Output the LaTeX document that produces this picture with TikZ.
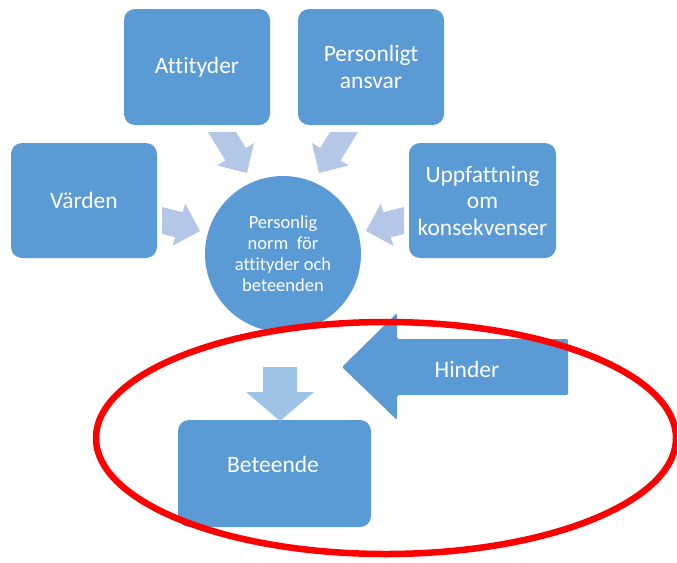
\documentclass[tikz,border=0pt]{standalone}
\usepackage{fontspec}
\setmainfont[Ligatures=CommonOff]{Carlito}
\definecolor{boxblue}{HTML}{5B9BD5}
\definecolor{arrowblue}{HTML}{B4C7E7}
\definecolor{downblue}{HTML}{9DC3E6}
\definecolor{ringred}{HTML}{FF0000}
\begin{document}
\begin{tikzpicture}[x=1pt,y=-1pt,
  blockbox/.style={fill=boxblue, draw=none, rounded corners=11pt, text=white,
    align=center, inner sep=0pt, font=\fontsize{23.5}{26.5}\selectfont},
  radarrow/.style={fill=arrowblue, draw=none},
  downarrow/.style={fill=downblue, draw=none},
  hinderarrow/.style={fill=boxblue, draw=none, rounded corners=1.5pt},
  lbl/.style={text=white, align=center, inner sep=0pt},
  ring/.style={draw=ringred, line width=6.5pt}]
\useasboundingbox (0,0) rectangle (677,562);

% boxes
\node[blockbox, minimum width=146pt, minimum height=116pt] (att) at (197,67) {Attityder};
\node[blockbox, minimum width=146pt, minimum height=116pt] (ans) at (371,67) {Personligt\\ansvar};
\node[blockbox, minimum width=146pt, minimum height=115pt] (var) at (84,200.5) {Värden};
\node[blockbox, minimum width=147pt, minimum height=115pt] (upp) at (482.5,200.5) {Uppfattning\\om\\konsekvenser};
\node[blockbox, minimum width=193pt, minimum height=107pt] (bet) at (274.5,473.5) {};
\node[lbl, font=\fontsize{23.5}{26.5}\selectfont] (bettxt) at (273,464) {Beteende};

% centre circle
\node[circle, fill=boxblue, minimum size=156pt, inner sep=0pt, text=white, align=center,
  font=\fontsize{18.5}{21}\selectfont] (norm) at (283,254) {Personlig\\norm~ för\\attityder och\\beteenden};

% converging arrows
\path[radarrow] (208,132) -- (236,132) -- (245.8,148) -- (254,143) -- (247,173)
  -- (217.2,165.4) -- (225.4,160.4) -- cycle;
\path[radarrow] (358,132) -- (330,132) -- (320.2,148) -- (312,143) -- (319,173)
  -- (348.8,165.4) -- (340.6,160.4) -- cycle;
\path[radarrow] (162,207) -- (182.6,212.2) -- (185.2,203.6) -- (200,231)
  -- (172.6,245.8) -- (175.2,237.2) -- (162,234) -- cycle;
\path[radarrow] (404,207) -- (383.4,212.2) -- (380.8,203.6) -- (366,231)
  -- (393.4,245.8) -- (390.8,237.2) -- (404,234) -- cycle;

% down arrow to Beteende
\path[downarrow] (263,367) -- (297,367) -- (297,392) -- (314,392) -- (280,421)
  -- (246,392) -- (263,392) -- cycle;

% Hinder arrow
\path[hinderarrow] (342,367) -- (397,313) -- (397,339) -- (568,339) -- (568,395)
  -- (397,395) -- (397,420) -- cycle;
\node[lbl, font=\fontsize{23.5}{26.5}\selectfont] (hinder) at (467,369) {Hinder};

% red ellipse
\draw[ring] (386,438) ellipse [x radius=290pt, y radius=116pt];
\end{tikzpicture}
\end{document}
